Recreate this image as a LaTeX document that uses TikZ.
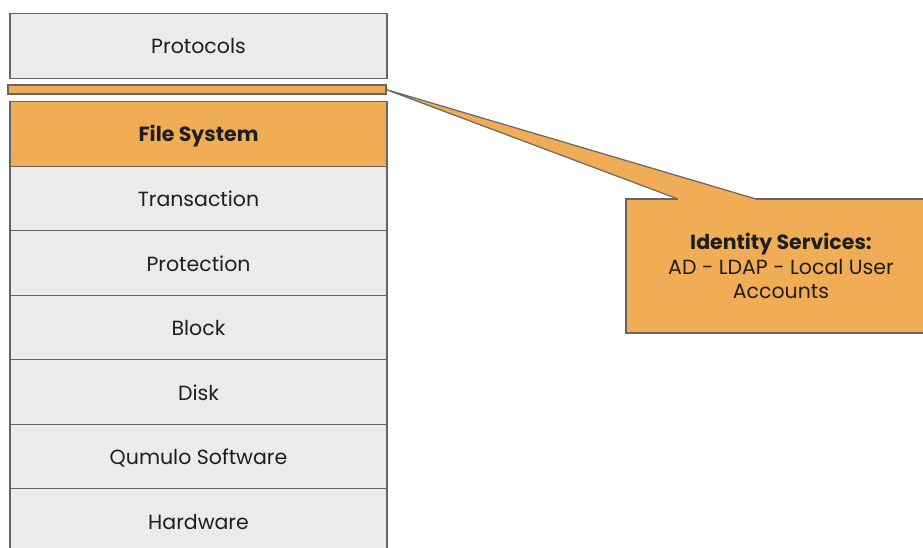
\documentclass[tikz,border=0pt]{standalone}
\usepackage{fontspec}
\setmainfont{Poppins}
\usetikzlibrary{calc}
\definecolor{boxgray}{HTML}{EBEBEB}
\definecolor{edgegray}{HTML}{666666}
\definecolor{qorange}{HTML}{F0AD55}
\definecolor{txt}{HTML}{1E1E1E}
\tikzset{
  layer/.style={draw=edgegray, line width=1.2pt, fill=boxgray, minimum width=377pt, minimum height=64.5pt, inner sep=0pt, outer sep=0pt, text height=16pt, text depth=0pt, text=txt, font=\fontsize{20.5}{24}\selectfont},
  hot/.style={layer, fill=qorange, font=\fontsize{20.5}{24}\selectfont\bfseries},
  bar/.style={draw=edgegray, line width=1.2pt, fill=qorange, minimum width=378pt, minimum height=9pt, inner sep=0pt, outer sep=0pt},
  callout/.style={draw=edgegray, line width=1.2pt, fill=qorange, minimum width=310pt, minimum height=134pt, inner sep=0pt, outer sep=0pt, text=txt, align=center, font=\fontsize{20.5}{24.5}\selectfont}
}
\begin{document}
\begin{tikzpicture}[x=1pt, y=-1pt]
\clip (0,0) rectangle (923,548);
\fill[white] (0,0) rectangle (923,548);
\node[layer] (proto) at (198.5,46) {Protocols};
\node[bar] (idbar) at (197,89.5) {};
\node[hot] (fs) at (198.5,134) {File System};
\node[layer, anchor=north] (trans) at (fs.south) {Transaction};
\node[layer, anchor=north] (prot) at (trans.south) {Protection};
\node[layer, anchor=north] (block) at (prot.south) {Block};
\node[layer, anchor=north] (disk) at (block.south) {Disk};
\node[layer, anchor=north] (qsw) at (disk.south) {Qumulo Software};
\node[layer, anchor=north] (hw) at (qsw.south) {Hardware};
\node[callout] (idsvc) at (781,266) {\textbf{Identity Services:}\\AD - LDAP - Local User\\Accounts};
\coordinate (pa) at ($(idsvc.north west)+(52,0)$);
\coordinate (pb) at ($(idsvc.north west)+(130,0)$);
\fill[qorange] ($(pa)+(0,1.5)$) -- (pa) -- (idbar.east) -- (pb) -- ($(pb)+(0,1.5)$) -- cycle;
\draw[edgegray, line width=1.2pt, line join=round] (pa) -- (idbar.east) -- (pb);
\end{tikzpicture}
\end{document}
